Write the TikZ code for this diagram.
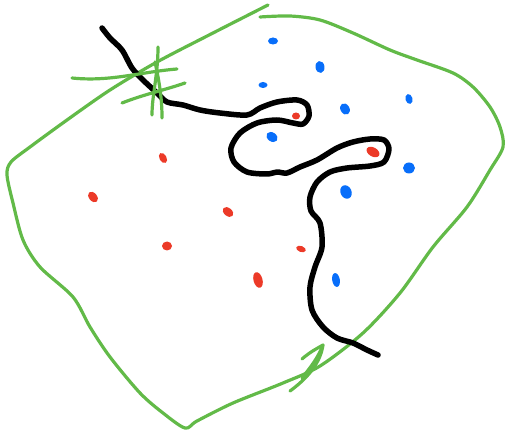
\documentclass[tikz,border=0pt]{standalone}
\usepackage{tikz}

\definecolor{penGreen}{RGB}{98,186,72}
\definecolor{penRed}{RGB}{236,58,40}
\definecolor{penBlue}{RGB}{8,110,250}

\begin{document}
\begin{tikzpicture}[x=1pt,y=-1pt,line cap=round,line join=round,
    boundary/.style={draw=penGreen,line width=3.2pt},
    path/.style={draw=black,line width=5.5pt},
    reddot/.style={fill=penRed},
    bluedot/.style={fill=penBlue}]
            \useasboundingbox (0,0) rectangle (505,435);
            % green region
            \draw [boundary] plot [smooth,tension=0.5] coordinates {(268,5) (213,33) (157,62) (110,90) (67,120) (30,147) (11,162) (7,175) (13,203) (23,240) (40,267) (73,297) (90,327) (110,357) (140,393) (163,413) (185,428) (197,421) (233,403) (283,383) (320,366) (363,333) (400,293) (433,247) (467,207) (490,170) (503,147) (500,127) (490,107) (473,87) (453,73) (417,60) (390,50) (353,33) (320,20) (290,16) (260,17)};
            % black curve
            \draw [path] plot [smooth,tension=0.5] coordinates {(102,28) (110,38) (122,50) (132,68) (143,80) (157,93) (167,102) (183,105) (200,110) (220,113) (247,115) (260,108) (277,102) (297,100) (307,105) (309,116) (303,124) (293,123) (277,120) (257,123) (240,133) (231,148) (234,162) (247,172) (267,174) (277,172) (287,173) (300,167) (317,160) (337,148) (353,142) (370,139) (384,140) (389,149) (384,162) (370,166) (347,168) (330,172) (317,182) (310,197) (311,211) (320,223) (322,247) (315,267) (310,287) (312,310) (323,327) (337,338) (353,343) (367,350) (378,355)};
            % hash marks
            \draw [boundary] (72,78) .. controls (110,82) and (140,72) .. (177,69);
            \draw [boundary] (122,103) .. controls (145,94) and (165,90) .. (185,83);
            \draw [boundary] (158,47) .. controls (158,75) and (152,95) .. (152,115);
            \draw [boundary] (155,62) .. controls (160,85) and (162,100) .. (162,118);
            % arrow mark
            \draw [boundary] (302,378) .. controls (310,368) and (318,358) .. (323,345) .. controls (320,365) and (305,380) .. (290,391);
            \draw [boundary] (302,359) .. controls (310,352) and (316,349) .. (323,345);
            % red dots
            \fill [reddot] (296,116) ellipse [x radius=4pt,y radius=3.5pt];
            \fill [reddot] (373,152) ellipse [x radius=7pt,y radius=4.5pt,rotate=-30];
            \fill [reddot] (163,158) ellipse [x radius=5.5pt,y radius=3.5pt,rotate=-60];
            \fill [reddot] (93,197) ellipse [x radius=6pt,y radius=4pt,rotate=-50];
            \fill [reddot] (228,212) ellipse [x radius=6pt,y radius=4pt,rotate=-40];
            \fill [reddot] (167,246) ellipse [x radius=5pt,y radius=4.5pt];
            \fill [reddot] (301,249) ellipse [x radius=5pt,y radius=3pt,rotate=-20];
            \fill [reddot] (258,280) ellipse [x radius=8pt,y radius=4.5pt,rotate=-75];
            % blue dots
            \fill [bluedot] (273,41) ellipse [x radius=5pt,y radius=3.5pt];
            \fill [bluedot] (320,67) ellipse [x radius=6pt,y radius=4.5pt,rotate=-80];
            \fill [bluedot] (263,85) ellipse [x radius=4.5pt,y radius=3pt];
            \fill [bluedot] (409,99) ellipse [x radius=5pt,y radius=3.5pt,rotate=-75];
            \fill [bluedot] (345,109) ellipse [x radius=6pt,y radius=4.5pt,rotate=-60];
            \fill [bluedot] (272,137) ellipse [x radius=6pt,y radius=4.5pt,rotate=-35];
            \fill [bluedot] (409,168) ellipse [x radius=6pt,y radius=5.5pt];
            \fill [bluedot] (346,192) ellipse [x radius=7pt,y radius=5.5pt,rotate=-65];
            \fill [bluedot] (336,280) ellipse [x radius=7pt,y radius=3.8pt,rotate=-80];
        \end{tikzpicture}
\end{document}
